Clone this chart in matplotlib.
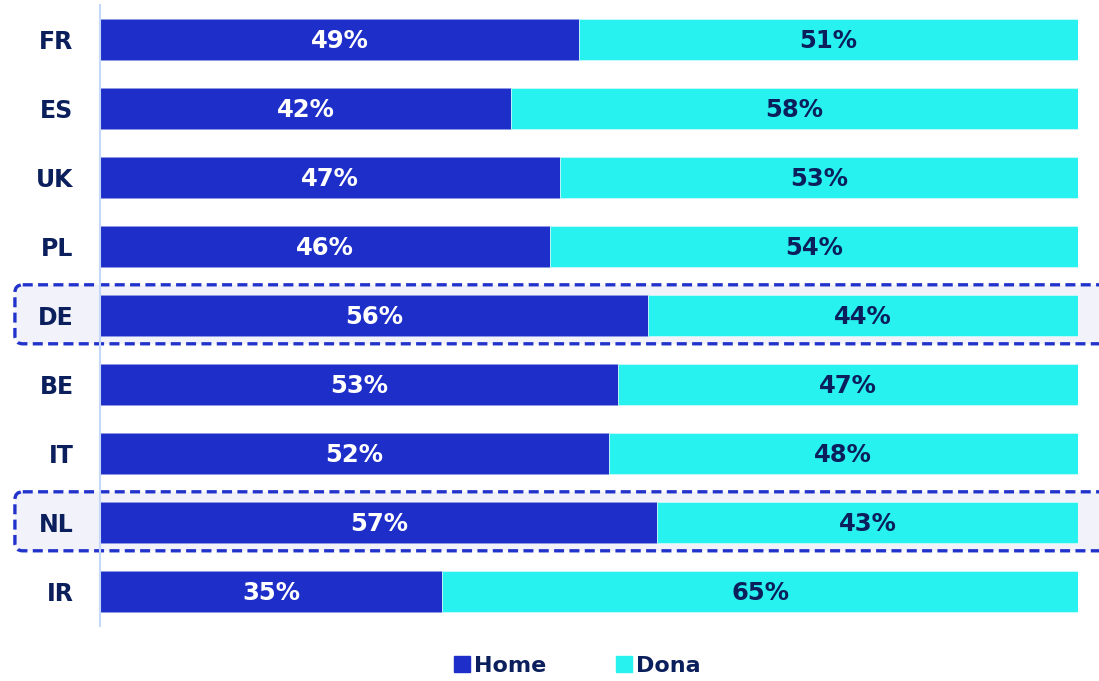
import matplotlib
matplotlib.use("Agg")
import matplotlib.pyplot as plt
from matplotlib.patches import FancyBboxPatch
from matplotlib.lines import Line2D

countries = ["FR", "ES", "UK", "PL", "DE", "BE", "IT", "NL", "IR"]
home = [49, 42, 47, 46, 56, 53, 52, 57, 35]
dona = [51, 58, 53, 54, 44, 47, 48, 43, 65]
highlight = ["DE", "NL"]

C_HOME = "#1e2ec8"
C_DONA = "#27f2ef"
C_TEXT = "#0b1f5c"
C_AXIS = "#c6d8fa"
FONT = "DejaVu Sans"

plt.rcParams["font.family"] = FONT

fig = plt.figure(figsize=(10.99, 6.81), dpi=100)
ax = fig.add_axes([100 / 1099, 1 - 626 / 681, 978 / 1099, 621 / 681])

y = list(range(len(countries)))
for c in highlight:
    i = countries.index(c)
    box = FancyBboxPatch((-8.7, i - 0.445), 112, 0.855,
                         boxstyle="round,pad=0,rounding_size=0.8",
                         mutation_aspect=0.1417,
                         facecolor="#f1f2fa", edgecolor="#2233cc",
                         linewidth=2.4, linestyle=(0, (3, 1.6)),
                         clip_on=False, zorder=0, transform=ax.transData)
    ax.add_patch(box)

ax.barh(y, home, height=0.59, color=C_HOME, edgecolor="#8f99e6", linewidth=0.6, zorder=2)
ax.barh(y, dona, left=home, height=0.59, color=C_DONA, edgecolor="#c9faf9", linewidth=0.6, zorder=2)

for i in y:
    ax.text(home[i] / 2, i + 0.02, f"{home[i]}%", ha="center", va="center",
            color="white", fontsize=17.5, fontweight="bold", zorder=3)
    ax.text(home[i] + dona[i] / 2, i + 0.02, f"{dona[i]}%", ha="center", va="center",
            color=C_TEXT, fontsize=17.5, fontweight="bold", zorder=3)

ax.set_xlim(0, 100)
ax.set_ylim(len(countries) - 0.5, -0.5)
ax.set_yticks(y)
ax.set_yticklabels(countries, fontsize=17, fontweight="bold", color=C_TEXT)
ax.tick_params(axis="y", length=0, pad=19)
ax.set_xticks([])
for s in ["top", "right", "bottom"]:
    ax.spines[s].set_visible(False)
ax.spines["left"].set_color(C_AXIS)
ax.spines["left"].set_linewidth(1.5)
ax.set_facecolor("none")

handles = [Line2D([], [], marker="s", linestyle="none", markersize=11,
                  markerfacecolor=C_HOME, markeredgecolor=C_HOME, label="Home"),
           Line2D([], [], marker="s", linestyle="none", markersize=11,
                  markerfacecolor=C_DONA, markeredgecolor=C_DONA, label="Dona")]
leg = fig.legend(handles=handles, loc="center", bbox_to_anchor=(576 / 1099, 1 - 666 / 681),
                 ncol=2, frameon=False, handletextpad=0.05, columnspacing=3.0,
                 handlelength=1.0, prop={"family": FONT, "weight": "bold", "size": 16})
for t in leg.get_texts():
    t.set_color(C_TEXT)

fig.savefig("out.png", dpi=100)
